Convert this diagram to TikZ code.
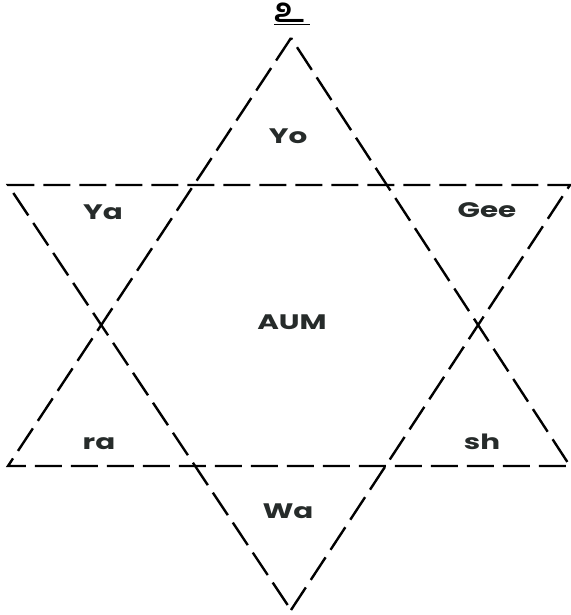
\documentclass[tikz,border=0pt]{standalone}
\usepackage{fontspec}
\usepackage{tikz}
\usetikzlibrary{positioning}
\newfontfamily\labelfont[FakeStretch=1.4]{Poppins}
\newfontfamily\tamilfont[Script=Tamil]{Hind Madurai}
\definecolor{inkdark}{HTML}{262B2A}
\tikzset{
  starline/.style={draw=black, line width=2.4pt, dash pattern=on 27pt off 9pt},
  starlabel/.style={font=\labelfont\bfseries\fontsize{21}{21}\selectfont, text=inkdark, inner sep=0pt, anchor=base},
  suzhi/.style={font=\tamilfont\bfseries\fontsize{34}{34}\selectfont, inner sep=0pt, anchor=base}
}

\begin{document}
\begin{tikzpicture}[x=1pt, y=-1pt]
\useasboundingbox (0,0) rectangle (570,615);
% up triangle
\coordinate (upA) at (291,38);
\coordinate (upL) at (8,466);
\coordinate (upR) at (570,466);
% down triangle
\coordinate (dnL) at (8,185);
\coordinate (dnR) at (570,185);
\coordinate (dnA) at (291,610);

\draw[starline] (upA) -- (upL) -- (upR) -- cycle;
\draw[starline] (dnA) -- (dnR) -- (dnL) -- cycle;

\node[suzhi] (top) at (292,23) {\underline{உ\kern6pt}};

\node[starlabel] (yo) at (288,143) {Yo};
\node[starlabel] (ya) at (103,219) {Ya};
\node[starlabel] (gee) at (487,217) {Gee};
\node[starlabel] (aum) at (292,329) {AUM};
\node[starlabel] (ra) at (99,449) {ra};
\node[starlabel] (sh) at (482,449) {sh};
\node[starlabel] (wa) at (288,518) {Wa};
\end{tikzpicture}
\end{document}
